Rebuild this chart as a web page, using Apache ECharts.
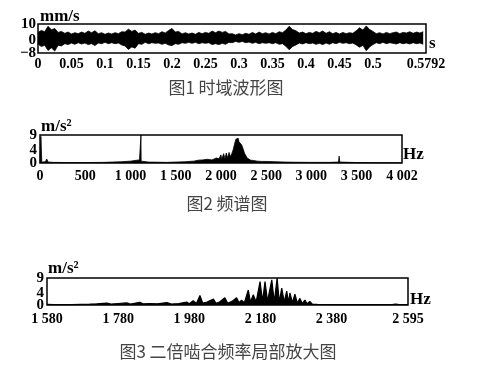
<!DOCTYPE html>
<html><head><meta charset="utf-8">
<script src="https://cdn.jsdelivr.net/npm/echarts@6/dist/echarts.min.js"></script>
<style>html,body{margin:0;padding:0;background:#fff}#c{width:483px;height:369px}</style>
</head><body><div id="c"></div>
<script>
// ---- Figure 1: time-domain waveform (envelope), mm/s
const waveStep = 0.005; // sampling grid of the read envelope, s
const waveUpper = [4.8,6.0,5.2,8.6,6.4,7.2,4.8,5.4,4.2,5.0,
  3.8,4.6,4.0,5.0,4.2,5.6,4.6,5.8,4.0,4.6,
  3.6,4.4,3.8,4.6,4.0,5.2,5.0,6.8,5.4,6.2,
  4.2,4.8,3.6,4.4,3.8,4.6,4.0,5.2,4.4,6.0,
  7.2,5.0,5.4,3.8,4.6,3.8,4.4,3.6,4.8,4.0,
  4.8,4.2,5.6,4.6,5.6,4.8,5.4,3.8,4.0,3.2,
  4.0,3.4,4.2,3.6,4.8,3.8,5.0,4.0,4.6,3.8,
  4.8,4.0,5.2,4.6,6.2,8.6,6.6,5.8,4.4,5.0,
  4.0,4.8,4.2,5.4,4.6,5.6,4.2,5.2,4.0,4.8,
  3.8,4.8,4.0,4.6,4.2,5.8,7.6,6.2,8.8,6.6,
  5.4,4.0,4.6,3.8,4.8,4.0,4.6,5.0,4.0,4.8,
  4.4,5.2,4.2,5.0,4.4,5.2];
const waveLower = [-2.4,-4.0,-3.2,-6.4,-4.8,-6.8,-3.2,-3.6,-2.2,-2.8,
  -1.8,-2.6,-1.6,-2.4,-1.8,-2.8,-2.2,-3.4,-1.8,-2.2,
  -1.4,-2.2,-1.6,-2.2,-1.8,-3.0,-3.6,-5.8,-4.2,-5.0,
  -2.2,-2.6,-1.4,-2.2,-1.6,-2.0,-1.8,-2.6,-2.0,-3.0,
  -3.4,-2.2,-2.6,-1.6,-2.0,-1.4,-2.0,-1.4,-2.2,-1.6,
  -2.0,-1.6,-2.8,-2.2,-2.8,-2.0,-2.6,-1.4,-1.6,-0.8,
  -1.4,-0.8,-1.6,-1.2,-2.0,-1.4,-2.2,-1.6,-2.0,-1.6,
  -2.2,-1.6,-2.6,-2.2,-3.8,-6.0,-4.0,-3.0,-1.8,-2.4,
  -1.6,-2.2,-1.8,-2.6,-2.0,-2.8,-1.8,-2.6,-1.6,-2.2,
  -1.4,-2.0,-1.6,-2.2,-1.8,-3.0,-4.4,-3.2,-6.6,-4.2,
  -2.8,-1.6,-2.2,-1.4,-2.2,-1.6,-2.0,-2.4,-1.6,-2.2,
  -1.8,-2.4,-1.6,-2.2,-1.8,-2.6];
const xTicks1 = [0,0.05,0.1,0.15,0.2,0.25,0.3,0.35,0.4,0.45,0.5,0.5792];
const xLabels1 = ['0','0.05','0.1','0.15','0.2','0.25','0.3','0.35','0.4','0.45','0.5','0.5792'];
const yTicks1 = [-8,0,10];
const yLabels1 = ['\u22128','0','10'];

// ---- Figure 2: spectrum, m/s^2 vs Hz
const freq2 = [0,10,20,60,74,90,150,300,500,700,800,900,1000,1050,1100,1114,1116,1118,1200,1400,
  1600,1700,1750,1800,1850,1900,1950,1980,2000,2010,2030,2045,2060,2075,2090,2105,2120,2135,2150,2165,
  2175,2190,2200,2215,2230,2245,2260,2275,2290,2310,2330,2360,2400,2450,2500,2600,2700,2800,3000,3200,
  3300,3307,3314,3500,3800,4002];
const amp2 = [0,8.5,0.3,0.4,1.3,0.3,0.2,0.15,0.15,0.2,0.3,0.4,0.6,0.8,1.0,0.8,9,0.6,0.3,0.2,
  0.4,0.6,0.9,1.0,1.2,1.0,1.6,1.4,2.6,1.2,3.0,1.4,3.2,1.6,3.4,2.0,3.0,4.2,6.0,7.6,
  7.2,8.0,6.8,7.4,5.8,4.6,3.2,2.4,1.6,1.2,0.9,0.8,0.6,0.5,0.5,0.4,0.3,0.25,0.2,0.2,
  0.3,2.2,0.3,0.15,0.1,0.1];
const xTicks2 = [0,500,1000,1500,2000,2500,3000,3500,4002];
const xLabels2 = ['0','500','1 000','1 500','2 000','2 500','3 000','3 500','4 002'];
const yTicks2 = [0,4,9];
const yLabels2 = ['0','4','9'];

// ---- Figure 3: zoom around twice mesh frequency
const freq3 = [1580,1600,1650,1700,1720,1748,1760,1780,1804,1815,1841,1850,1870,1890,1917,1930,1950,1973,1980,1991,
  2000,2010,2018,2030,2048,2055,2065,2080,2088,2100,2113,2120,2127,2135,2146,2152,2160,2168,2179,2186,
  2193,2200,2212,2219,2227,2233,2240,2247,2254,2259,2263,2270,2277,2284,2291,2298,2305,2312,2319,2326,
  2340,2400,2500,2550,2560,2570,2595];
const amp3 = [0.2,0.1,0.15,0.3,0.4,0.6,0.3,0.5,0.7,0.3,0.9,0.4,0.5,0.4,0.8,0.3,0.5,1.0,0.4,1.4,
  0.5,3.2,0.6,1.0,2.0,0.6,1.0,2.4,0.6,1.2,2.4,0.8,1.6,0.8,5.0,1.0,3.4,1.0,7.8,1.2,
  7.8,1.2,8.4,1.0,9.0,1.0,5.6,1.0,4.6,0.8,4.0,0.8,3.6,0.6,2.2,0.5,1.6,0.4,1.2,0.3,
  0.2,0.15,0.1,0.15,0.3,0.1,0.1];
const xTicks3 = [1580,1780,1980,2180,2380,2595];
const xLabels3 = ['1 580','1 780','1 980','2 180','2 380','2 595'];
const yTicks3 = [0,4,9];
const yLabels3 = ['0','4','9'];

const INK = '#000';
const SERIF = '"Liberation Serif","DejaVu Serif",serif';
const CJK = '"Noto Sans CJK SC","Noto Sans",sans-serif';

function lab(ticks, labels){ return v => { const i = ticks.findIndex(t => Math.abs(t - v) < 1e-9); return i >= 0 ? labels[i] : ''; }; }
function xAx(gi, min, max, ticks, labels, margin){
  return { type:'value', gridIndex:gi, min, max,
    axisLine:{show:false}, axisTick:{show:false}, splitLine:{show:false},
    axisLabel:{ customValues:ticks, formatter:lab(ticks,labels), margin, color:INK, interval:0,
      fontFamily:SERIF, fontSize:14, fontWeight:'bold', showMinLabel:true, showMaxLabel:true } };
}
// two stacked left axes per panel: one carries the end labels, the other the middle label
function yAxPair(gi, min, max, ticks, labels, margin){
  const base = { type:'value', gridIndex:gi, min, max, position:'left',
    axisLine:{show:false}, axisTick:{show:false}, splitLine:{show:false} };
  const lbl = vals => ({ customValues:vals, formatter:lab(ticks,labels), margin, color:INK, interval:0,
      fontFamily:SERIF, fontSize:15, fontWeight:'bold', showMinLabel:true, showMaxLabel:true });
  return [
    Object.assign({}, base, {axisLabel:lbl([ticks[0], ticks[ticks.length-1]])}),
    Object.assign({}, base, {offset:0, axisLabel:lbl(ticks.slice(1, -1))})
  ];
}
function txt(text, x, y, opts){
  return Object.assign({ type:'text', x, y, silent:true,
    style:Object.assign({ text, fill:INK, font:'bold 17px ' + SERIF, textAlign:'left', textVerticalAlign:'middle' }, opts||{}) });
}

const chart = echarts.init(document.getElementById('c'), null, {renderer:'canvas'});
const times = waveUpper.map((_, i) => +(i * waveStep).toFixed(3));
const lineStyle = {color:INK, width:0.8};

chart.setOption({
  animation:false,
  backgroundColor:'#fff',
  grid:[
    {left:38, top:24, width:388, height:29, show:true, borderColor:INK, borderWidth:1.5},
    {left:40, top:135, width:362, height:28, show:true, borderColor:INK, borderWidth:1.5},
    {left:47, top:278, width:361, height:27, show:true, borderColor:INK, borderWidth:1.5}
  ],
  xAxis:[
    xAx(0, 0, 0.5792, xTicks1, xLabels1, 4),
    xAx(1, 0, 4002, xTicks2, xLabels2, 6),
    xAx(2, 1580, 2595, xTicks3, xLabels3, 7)
  ],
  yAxis:[].concat(
    yAxPair(0, -8, 10, yTicks1, yLabels1, 2),
    yAxPair(1, 0, 9, yTicks2, yLabels2, 3),
    yAxPair(2, 0, 9, yTicks3, yLabels3, 3)
  ),
  series:[
    {type:'line', xAxisIndex:0, yAxisIndex:0, showSymbol:false, lineStyle, areaStyle:{color:INK, opacity:1},
      data: times.map((t,i)=>[t, waveUpper[i]])},
    {type:'line', xAxisIndex:0, yAxisIndex:0, showSymbol:false, lineStyle, areaStyle:{color:INK, opacity:1},
      data: times.map((t,i)=>[t, waveLower[i]])},
    {type:'line', xAxisIndex:1, yAxisIndex:2, showSymbol:false, lineStyle, areaStyle:{color:INK, opacity:1},
      data: freq2.map((f,i)=>[f, amp2[i]])},
    {type:'line', xAxisIndex:2, yAxisIndex:4, showSymbol:false, lineStyle:{color:INK, width:1.2}, areaStyle:{color:INK, opacity:1},
      data: freq3.map((f,i)=>[f, amp3[i]])}
  ],
  graphic:[
    txt('mm/s', 40, 17),
    txt('s', 429, 44),
    txt('m/s\u00b2', 41, 127),
    txt('Hz', 403, 155),
    txt('m/s\u00b2', 48, 269),
    txt('Hz', 410, 300),
    txt('图1 时域波形图', 226, 88, {font:'17px ' + CJK, fill:'#444', textAlign:'center'}),
    txt('图2 频谱图', 227, 204, {font:'17px ' + CJK, fill:'#444', textAlign:'center'}),
    txt('图3 二倍啮合频率局部放大图', 228, 352, {font:'17px ' + CJK, fill:'#444', textAlign:'center'})
  ]
});
</script></body></html>
